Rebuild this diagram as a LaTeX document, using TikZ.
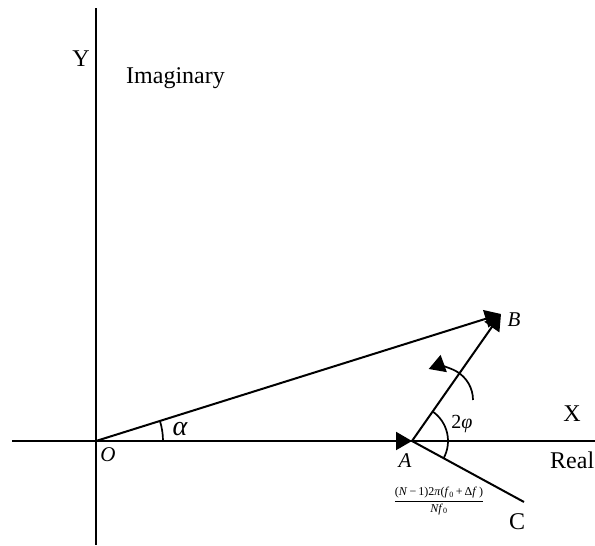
\documentclass[tikz,border=0pt]{standalone}
\usepackage{fontspec}
\setmainfont{Liberation Serif}
\usetikzlibrary{arrows.meta}
\begin{document}
\begin{tikzpicture}[x=1pt,y=1pt,
  axis/.style={line width=2pt},
  vec/.style={line width=2pt},
  vhead/.style={-{Triangle[length=16pt,width=18pt]}},
  anglearc/.style={line width=1.7pt},
  lbl/.style={inner sep=0pt,font=\fontsize{24}{28}\selectfont},
  ilbl/.style={inner sep=0pt,font=\fontsize{21}{24}\selectfont\itshape}]
\useasboundingbox (0,0) rectangle (595,546);
% points
\coordinate (O) at (96,105);
\coordinate (A) at (412,105);
\coordinate (B) at (501,232);
\coordinate (C) at (524,44);
\coordinate (xl) at (12,105);
\coordinate (xr) at (595,105);
\coordinate (yt) at (96,538);
\coordinate (yb) at (96,1);
\coordinate (rs) at (473,146);
% axes
\draw[axis] (xl) -- (xr);
\draw[axis] (yb) -- (yt);
% vectors
\draw[vec,vhead] (O) -- (A);
\draw[vec,vhead] (O) -- (B);
\draw[vec,vhead] (A) -- (B);
\draw[vec] (A) -- (C);
% angle arcs
\draw[anglearc] ([shift={(0:67)}]O) arc[start angle=0,end angle=17.4,radius=67];
\draw[anglearc] ([shift={(-28.6:36)}]A) arc[start angle=-28.6,end angle=55,radius=36];
% rotation arrow
\draw[anglearc,-{Triangle[length=16pt,width=18pt]}] (rs) arc[start angle=0,end angle=110,radius=33];
% labels
\node[lbl] (ly) at (81,487) {Y};
\node[lbl,anchor=west] (lim) at (126,468) {Imaginary};
\node[lbl] (lx) at (572,132) {X};
\node[lbl,anchor=west] (lre) at (550,86) {Real};
\node[lbl] (lc) at (517,24) {C};
\node[ilbl] (lo) at (108,91) {O};
\node[ilbl] (la) at (405,85) {A};
\node[ilbl] (lb) at (514,226) {B};
\node[inner sep=0pt,font=\fontsize{28}{32}\selectfont\itshape] (lal) at (180,117) {α};
\node[inner sep=0pt,font=\fontsize{20}{24}\selectfont] (lphi) at (462,122) {2\textit{φ}};
\node[inner sep=0pt,font=\fontsize{12}{14}\selectfont] (lfr) at (439,45)
  {$\displaystyle\frac{\hbox{(\textit{N}\,−\,1)2\textit{π}(\textit{f}\textsubscript{0}\,+\,Δ\textit{f}\,)}}{\hbox{\textit{Nf}\textsubscript{0}}}$};
\end{tikzpicture}
\end{document}
